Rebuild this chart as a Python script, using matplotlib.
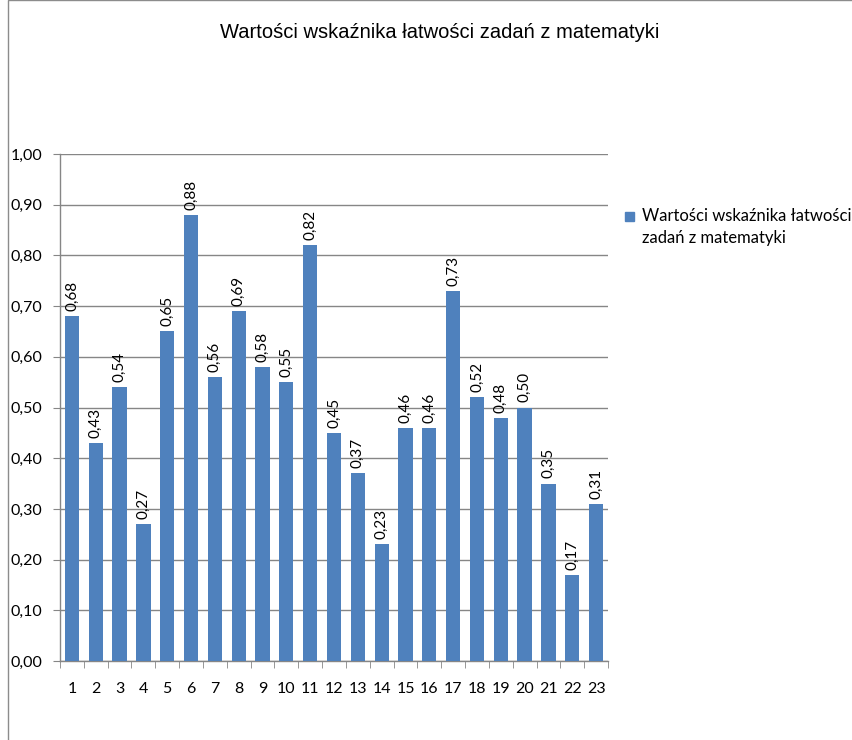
import numpy as np
import matplotlib
matplotlib.use('Agg')
import matplotlib.pyplot as plt
import matplotlib.patches as mpatches
from matplotlib.ticker import FixedLocator, NullFormatter

# ── Data ──────────────────────────────────────────────────────────────────────
TITLE = 'Wartości wskaźnika łatwości zadań z matematyki'
SERIES_NAME = 'Wartości wskaźnika łatwości\nzadań z matematyki'
tasks = [str(i) for i in range(1, 24)]
values = [0.68, 0.43, 0.54, 0.27, 0.65, 0.88, 0.56, 0.69, 0.58, 0.55, 0.82, 0.45,
          0.37, 0.23, 0.46, 0.46, 0.73, 0.52, 0.48, 0.50, 0.35, 0.17, 0.31]
yticks = [0.0, 0.1, 0.2, 0.3, 0.4, 0.5, 0.6, 0.7, 0.8, 0.9, 1.0]

BAR_COLOR = '#4F81BD'
GRID_COLOR = '#868686'
TXT_FONT = ['Lato', 'DejaVu Sans']

fig = plt.figure(figsize=(8.53, 7.40), dpi=100)
ax = fig.add_axes([60 / 853, 1 - 661 / 740, 548 / 853, 507 / 740])

# chart frame (left and top edges visible in the crop)
fig.add_artist(mpatches.Rectangle((8 / 853, -0.01), 1.0, 1.0105,
                                  transform=fig.transFigure, fill=False,
                                  edgecolor='#8c8c8c', linewidth=1.0))

x = np.arange(len(tasks))
ax.bar(x, values, width=0.6, color=BAR_COLOR, zorder=3)

for xi, v in zip(x, values):
    ax.text(xi, v + 0.01, f'{v:.2f}'.replace('.', ','), rotation=90,
            ha='center', va='bottom', fontsize=11, family=TXT_FONT,
            color='black', zorder=4)

ax.set_xlim(-0.5, len(tasks) - 0.5)
ax.set_ylim(0, 1.0)
ax.set_yticks(yticks)
ax.set_yticklabels([f'{t:.2f}'.replace('.', ',') for t in yticks],
                   fontsize=11.5, family=TXT_FONT)
ax.set_xticks(x)
ax.set_xticklabels(tasks, fontsize=11.5, family=TXT_FONT)
ax.tick_params(axis='x', length=0, pad=15)
ax.xaxis.set_minor_locator(FixedLocator(np.arange(-0.5, len(tasks), 1.0)))
ax.xaxis.set_minor_formatter(NullFormatter())
ax.tick_params(axis='x', which='minor', length=5, color=GRID_COLOR, direction='out')
ax.tick_params(axis='y', length=5, color=GRID_COLOR, direction='out', pad=8)

ax.grid(axis='y', color=GRID_COLOR, linewidth=1.0, zorder=0)
ax.set_axisbelow(True)
for side in ['top', 'right']:
    ax.spines[side].set_visible(False)
for side in ['left', 'bottom']:
    ax.spines[side].set_color(GRID_COLOR)
    ax.spines[side].set_linewidth(1.0)

fig.text(440 / 853, 1 - 33 / 740, TITLE, ha='center', va='center',
         fontsize=14.5, family=['Liberation Sans', 'DejaVu Sans'])

# legend
fig.add_artist(mpatches.Rectangle((625 / 853, 1 - 221 / 740), 9 / 853, 9 / 740,
                                  transform=fig.transFigure, color=BAR_COLOR))
fig.text(642 / 853, 1 - 208 / 740, SERIES_NAME, ha='left', va='top',
         fontsize=12, family=TXT_FONT, linespacing=1.45)

fig.savefig('out.png', dpi=100)
